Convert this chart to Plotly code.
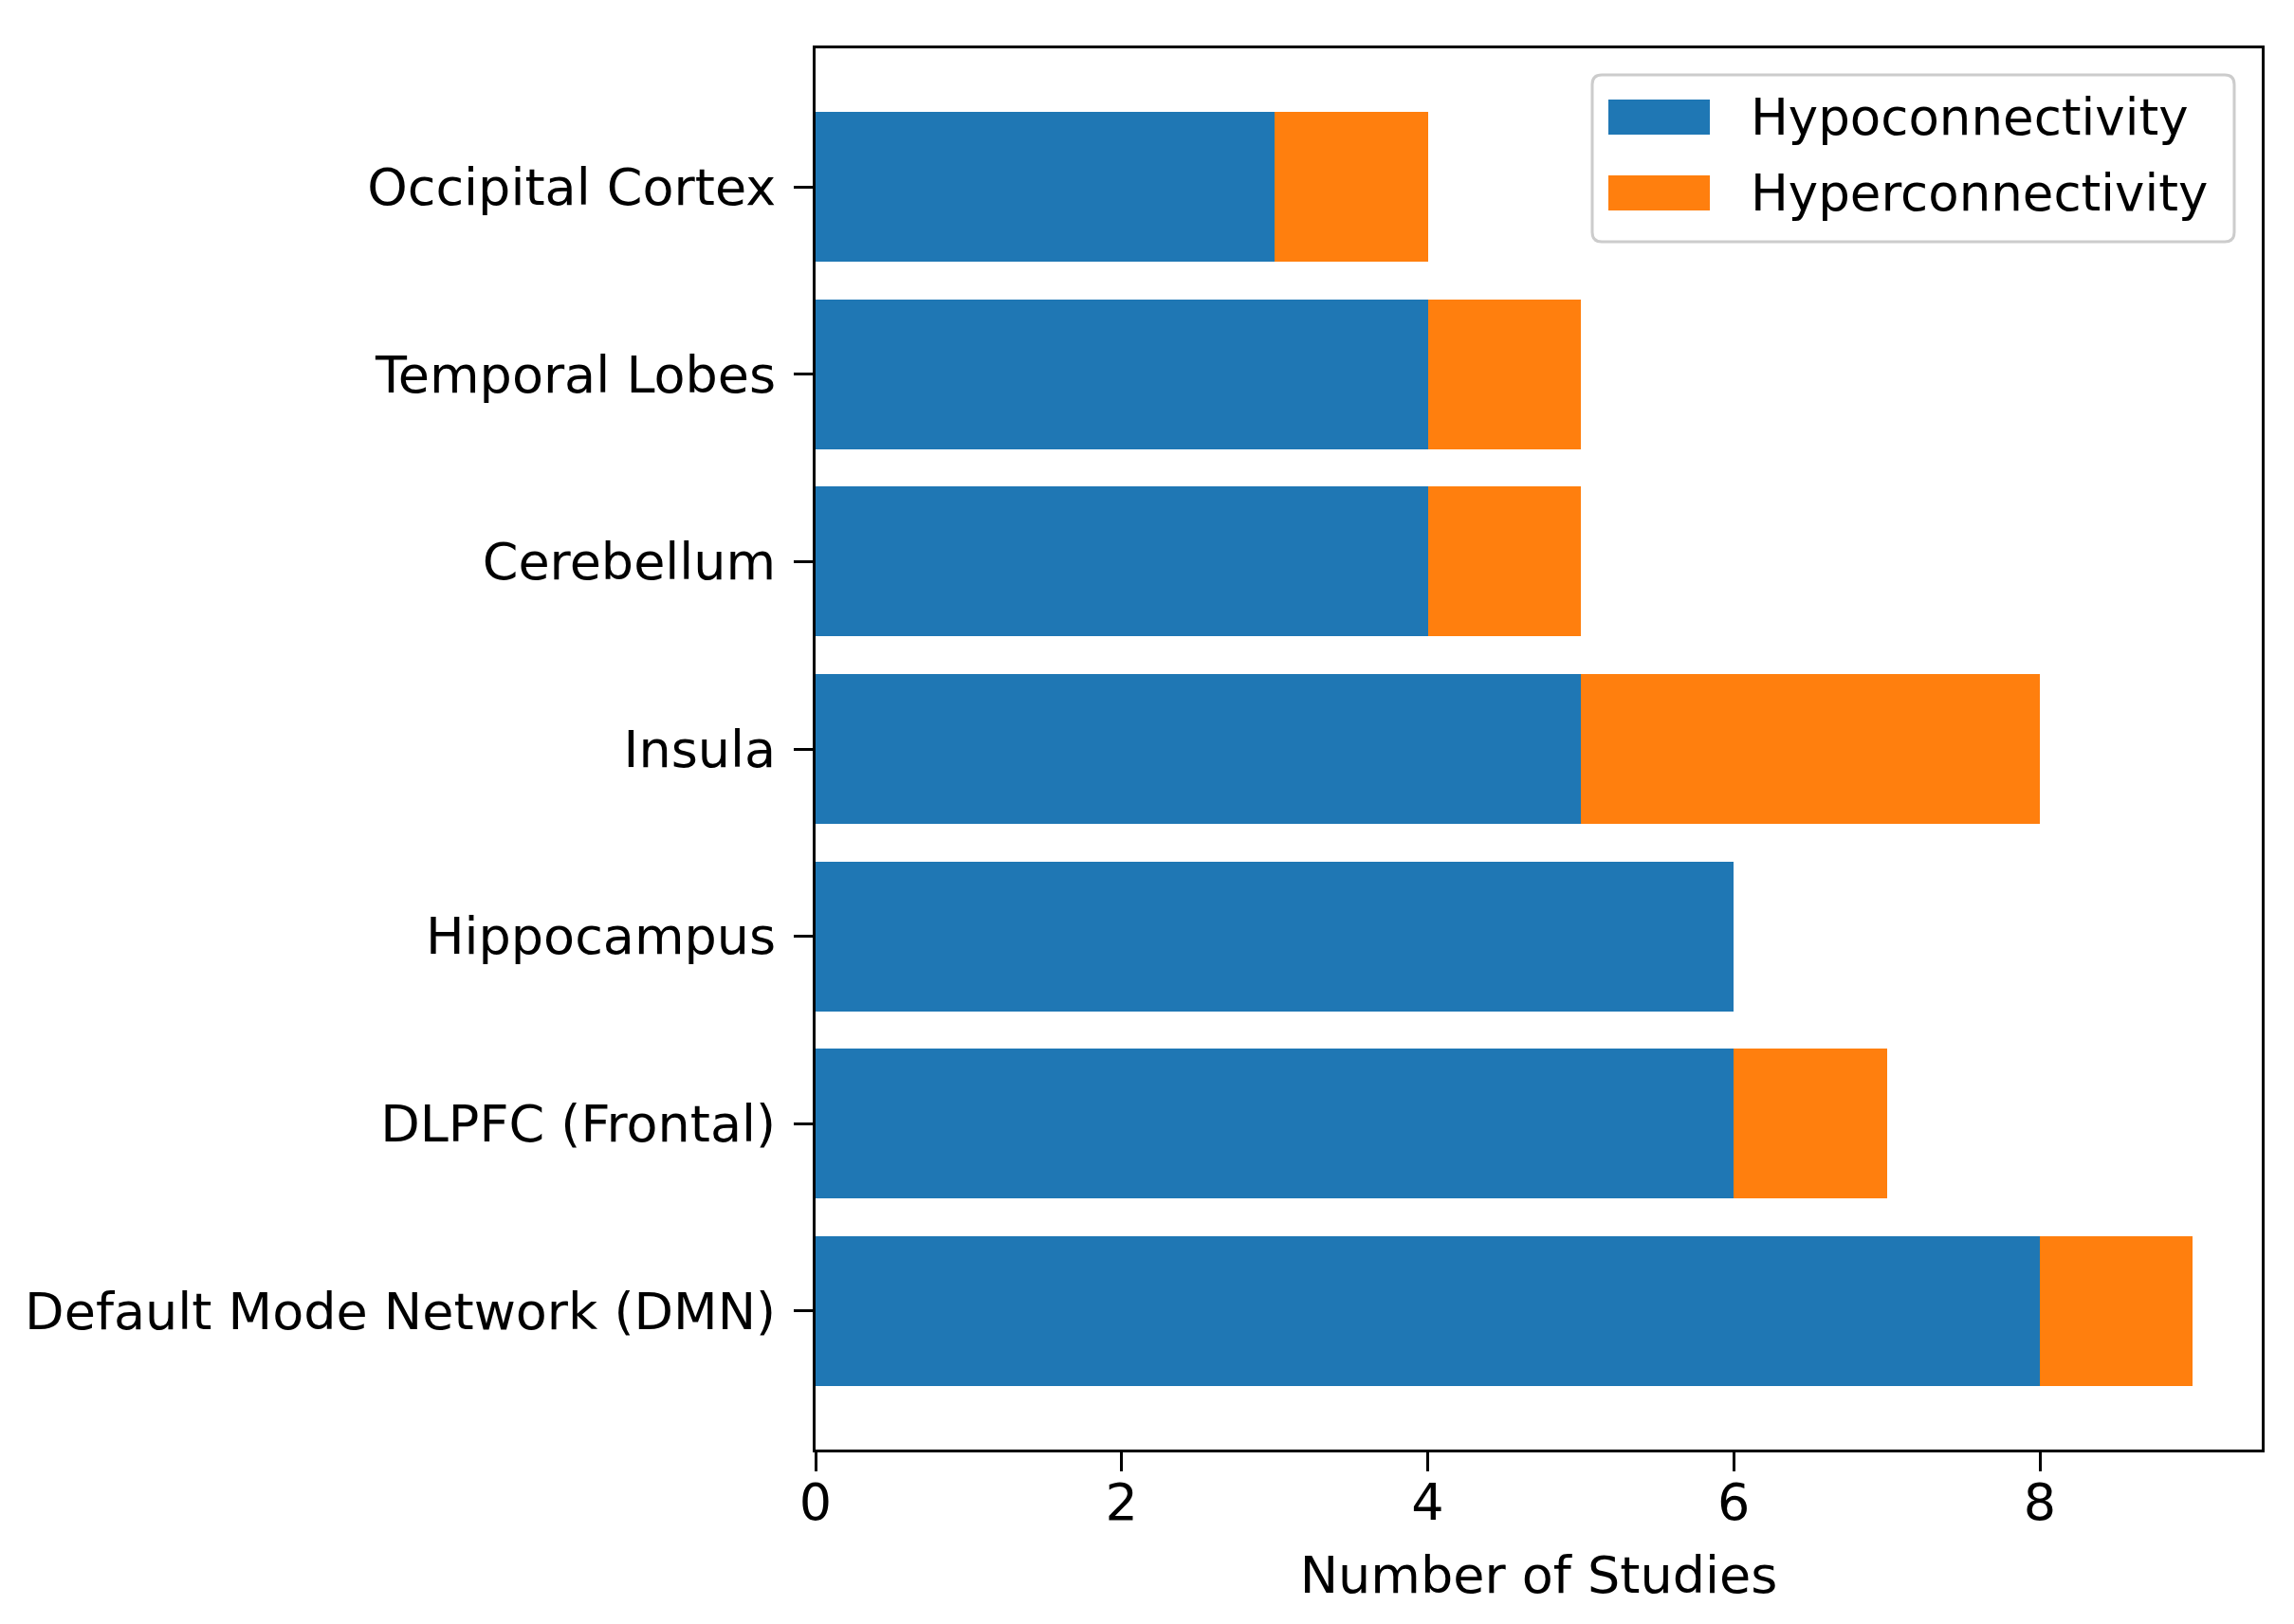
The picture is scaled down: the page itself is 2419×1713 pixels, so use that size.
"""Stacked horizontal bars: connectivity findings per brain region."""

import plotly.graph_objects as go

REGIONS = [
    "Default Mode Network (DMN)",
    "DLPFC (Frontal)",
    "Hippocampus",
    "Insula",
    "Cerebellum",
    "Temporal Lobes",
    "Occipital Cortex",
]
HYPO = [8, 6, 6, 5, 4, 4, 3]
HYPER = [1, 1, 0, 3, 1, 1, 1]
SERIES = ["Hypoconnectivity", "Hyperconnectivity"]
X_TICKS = [0, 2, 4, 6, 8]

COLORS = ["#1f77b4", "#ff7f0e"]
FONT = "DejaVu Sans"
FS = 54

W, H = 2419, 1713
L, R, T, B = 852, 42, 43, 192

fig = go.Figure()
for name, vals, col in zip(SERIES, [HYPO, HYPER], COLORS):
    fig.add_trace(
        go.Bar(
            y=REGIONS,
            x=vals,
            name=name,
            orientation="h",
            marker=dict(color=col, line=dict(width=0)),
            showlegend=False,
        )
    )

# matplotlib-style legend drawn by hand (big patches, rounded frame)
pw = W - L - R
ph = H - T - B


def px(x):
    return (x - L) / pw


def py(y):
    return 1 - (y - T) / ph


x0, x1, y0, y1, rad = 1671, 2348, 71, 247, 10
rx, ry = rad / pw, rad / ph
path = (
    f"M {px(x0) + rx},{py(y0)} L {px(x1) - rx},{py(y0)} "
    f"Q {px(x1)},{py(y0)} {px(x1)},{py(y0) - ry} "
    f"L {px(x1)},{py(y1) + ry} Q {px(x1)},{py(y1)} {px(x1) - rx},{py(y1)} "
    f"L {px(x0) + rx},{py(y1)} Q {px(x0)},{py(y1)} {px(x0)},{py(y1) + ry} "
    f"L {px(x0)},{py(y0) - ry} Q {px(x0)},{py(y0)} {px(x0) + rx},{py(y0)} Z"
)
fig.add_shape(
    type="path", path=path, xref="paper", yref="paper",
    fillcolor="rgba(255,255,255,0.8)", line=dict(color="#cccccc", width=3),
)
for i, (name, col) in enumerate(zip(SERIES, COLORS)):
    top = 97 + i * 80
    fig.add_shape(
        type="rect", xref="paper", yref="paper",
        x0=px(1688), x1=px(1795), y0=py(top), y1=py(top + 37),
        fillcolor=col, line=dict(width=0),
    )
    fig.add_annotation(
        x=px(1836), y=py(top + 18), xref="paper", yref="paper",
        text=name, showarrow=False, xanchor="left", yanchor="middle",
        font=dict(family=FONT, size=53, color="black"),
    )

axis_common = dict(
    showline=True, linecolor="black", linewidth=3, mirror=True,
    ticks="outside", ticklen=20, tickwidth=3, tickcolor="black",
    showgrid=False, zeroline=False,
    tickfont=dict(family=FONT, size=FS, color="black"),
)

fig.update_layout(
    width=W, height=H,
    barmode="stack", bargap=0.2,
    plot_bgcolor="white", paper_bgcolor="white",
    margin=dict(l=L, r=R, t=T, b=B),
    font=dict(family=FONT, size=FS, color="black"),
    xaxis=dict(
        range=[0, 9.45], tickvals=X_TICKS, ticklabelstandoff=-14,
        title=dict(text="Number of Studies", standoff=28,
                   font=dict(family=FONT, size=FS, color="black")),
        **axis_common,
    ),
    yaxis=dict(range=[-0.74, 6.74], ticklabelstandoff=8, **axis_common),
)

fig.write_html("out.html")
